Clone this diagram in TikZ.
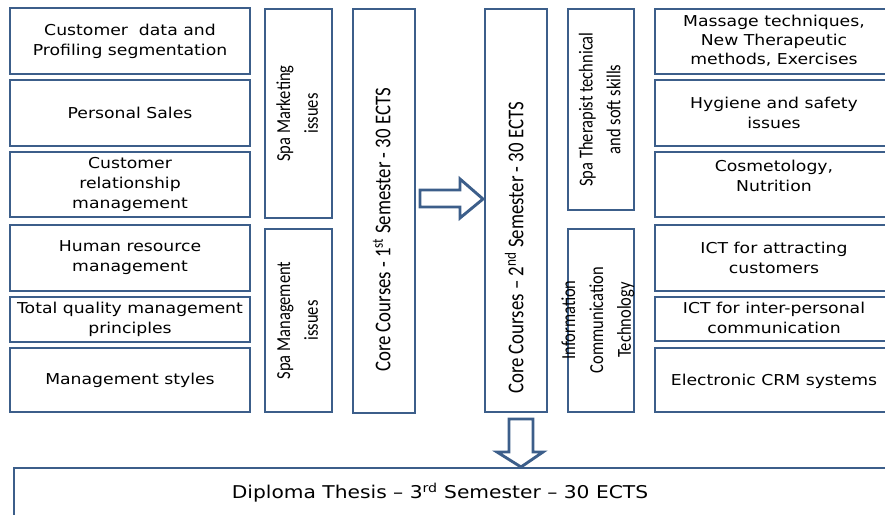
\documentclass[tikz,border=0pt]{standalone}
\usepackage{graphicx}
\usepackage{fontspec}
\setmainfont{DejaVu Sans}
\newfontfamily\hfont[FakeStretch=1.15]{DejaVu Sans}
\newfontfamily\vfont{Carlito}
\definecolor{bordc}{RGB}{60,94,138}
\tikzset{
  box/.style={draw=bordc, line width=2.9pt, fill=white, inner sep=0pt, align=center,
    font=\hfont\fontsize{15}{20}\selectfont},
  boxtext/.style={inner sep=0pt, align=center, font=\hfont\fontsize{15}{20}\selectfont},
  vlab/.style={rotate=90, inner sep=0pt, font=\vfont\fontsize{16.5}{23.2}\selectfont},
  corelab/.style={rotate=90, inner sep=0pt, font=\vfont\fontsize{18.8}{22}\selectfont},
  bigarrow/.style={draw=bordc, line width=2.9pt, fill=white, line join=miter},
}
\newcommand\mkbox[6]{\node[box, minimum width={(#4-#2)*1pt}, minimum height={(#5-#3)*1pt}]
  (#1) at ({(#2+#4)/2},{-(#3+#5)/2}) {#6};}
\newcommand\vst[1]{\scalebox{1}[1.2]{\begin{tabular}{@{}c@{}}#1\end{tabular}}}
\begin{document}
\begin{tikzpicture}[x=1pt,y=1pt]
\useasboundingbox (0,0) rectangle (885,-514);
\clip (0,0) rectangle (885,-514);
% left column
\mkbox{l1}{10}{8}{250}{74}{Customer\ \ data and\\Profiling segmentation}
\mkbox{l2}{10}{80}{250}{146}{Personal Sales}
\mkbox{l3}{10}{152}{250}{217}{Customer\\relationship\\management}
\mkbox{l4}{10}{225}{250}{291}{Human resource\\management}
\mkbox{l5}{10}{297}{250}{342}{Total quality management\\principles}
\mkbox{l6}{10}{348}{250}{412}{Management styles}
% group boxes
\mkbox{gm}{265}{9}{332}{218}{}
\node[vlab] (gmt) at (gm.center) {\vst{Spa Marketing\\issues}};
\mkbox{gs}{265}{229}{332}{412}{}
\node[vlab] (gst) at (gs.center) {\vst{Spa Management\\issues}};
% core 1
\mkbox{c1}{353}{9}{415}{413}{}
\node[corelab] (c1t) at (385,-230) {\vst{Core Courses - 1\textsuperscript{st} Semester - 30 ECTS}};
% arrow right
\draw[bigarrow] (420,-190) -- (460,-190) -- (460,-179) -- (483,-199) -- (460,-218) -- (460,-207) -- (420,-207) -- cycle;
% core 2
\mkbox{c2}{485}{9}{547}{412}{}
\node[corelab] (c2t) at (518,-248) {\vst{Core Courses – 2\textsuperscript{nd} Semester - 30 ECTS}};
% group boxes right
\mkbox{gt}{568}{9}{634}{210}{}
\node[vlab] (gtt) at (gt.center) {\vst{Spa Therapist technical\\and soft skills}};
\mkbox{gi}{568}{229}{634}{412}{}
\node[vlab] (git) at (597.5,-320) {\vst{Information\\Communication\\Technology}};
% right column
\mkbox{r1}{655}{9}{894}{74}{}
\node[boxtext, font=\hfont\fontsize{15}{19}\selectfont] (r1t) at (774,-41) {Massage techniques,\\New Therapeutic\\methods, Exercises};
\mkbox{r2}{655}{80}{894}{146}{}
\node[boxtext] (r2t) at (774,-112.5) {Hygiene and safety\\issues};
\mkbox{r3}{655}{152}{894}{217}{}
\node[boxtext] (r3t) at (774,-176) {Cosmetology,\\Nutrition};
\mkbox{r4}{655}{225}{894}{291}{}
\node[boxtext] (r4t) at (774,-257.5) {ICT for attracting\\customers};
\mkbox{r5}{655}{297}{894}{341}{}
\node[boxtext] (r5t) at (774,-318) {ICT for inter-personal\\communication};
\mkbox{r6}{655}{348}{894}{412}{}
\node[boxtext] (r6t) at (774,-381) {Electronic CRM systems};
% diploma
\mkbox{dp}{14}{468}{900}{530}{}
\node[boxtext, font=\hfont\fontsize{17.6}{20}\selectfont] (dpt) at (440,-493) {Diploma Thesis – 3\textsuperscript{rd} Semester – 30 ECTS};
% arrow down
\draw[bigarrow] (509,-419) -- (533,-419) -- (533,-452) -- (543,-452) -- (521,-467) -- (497,-452) -- (509,-452) -- cycle;
\end{tikzpicture}
\end{document}
